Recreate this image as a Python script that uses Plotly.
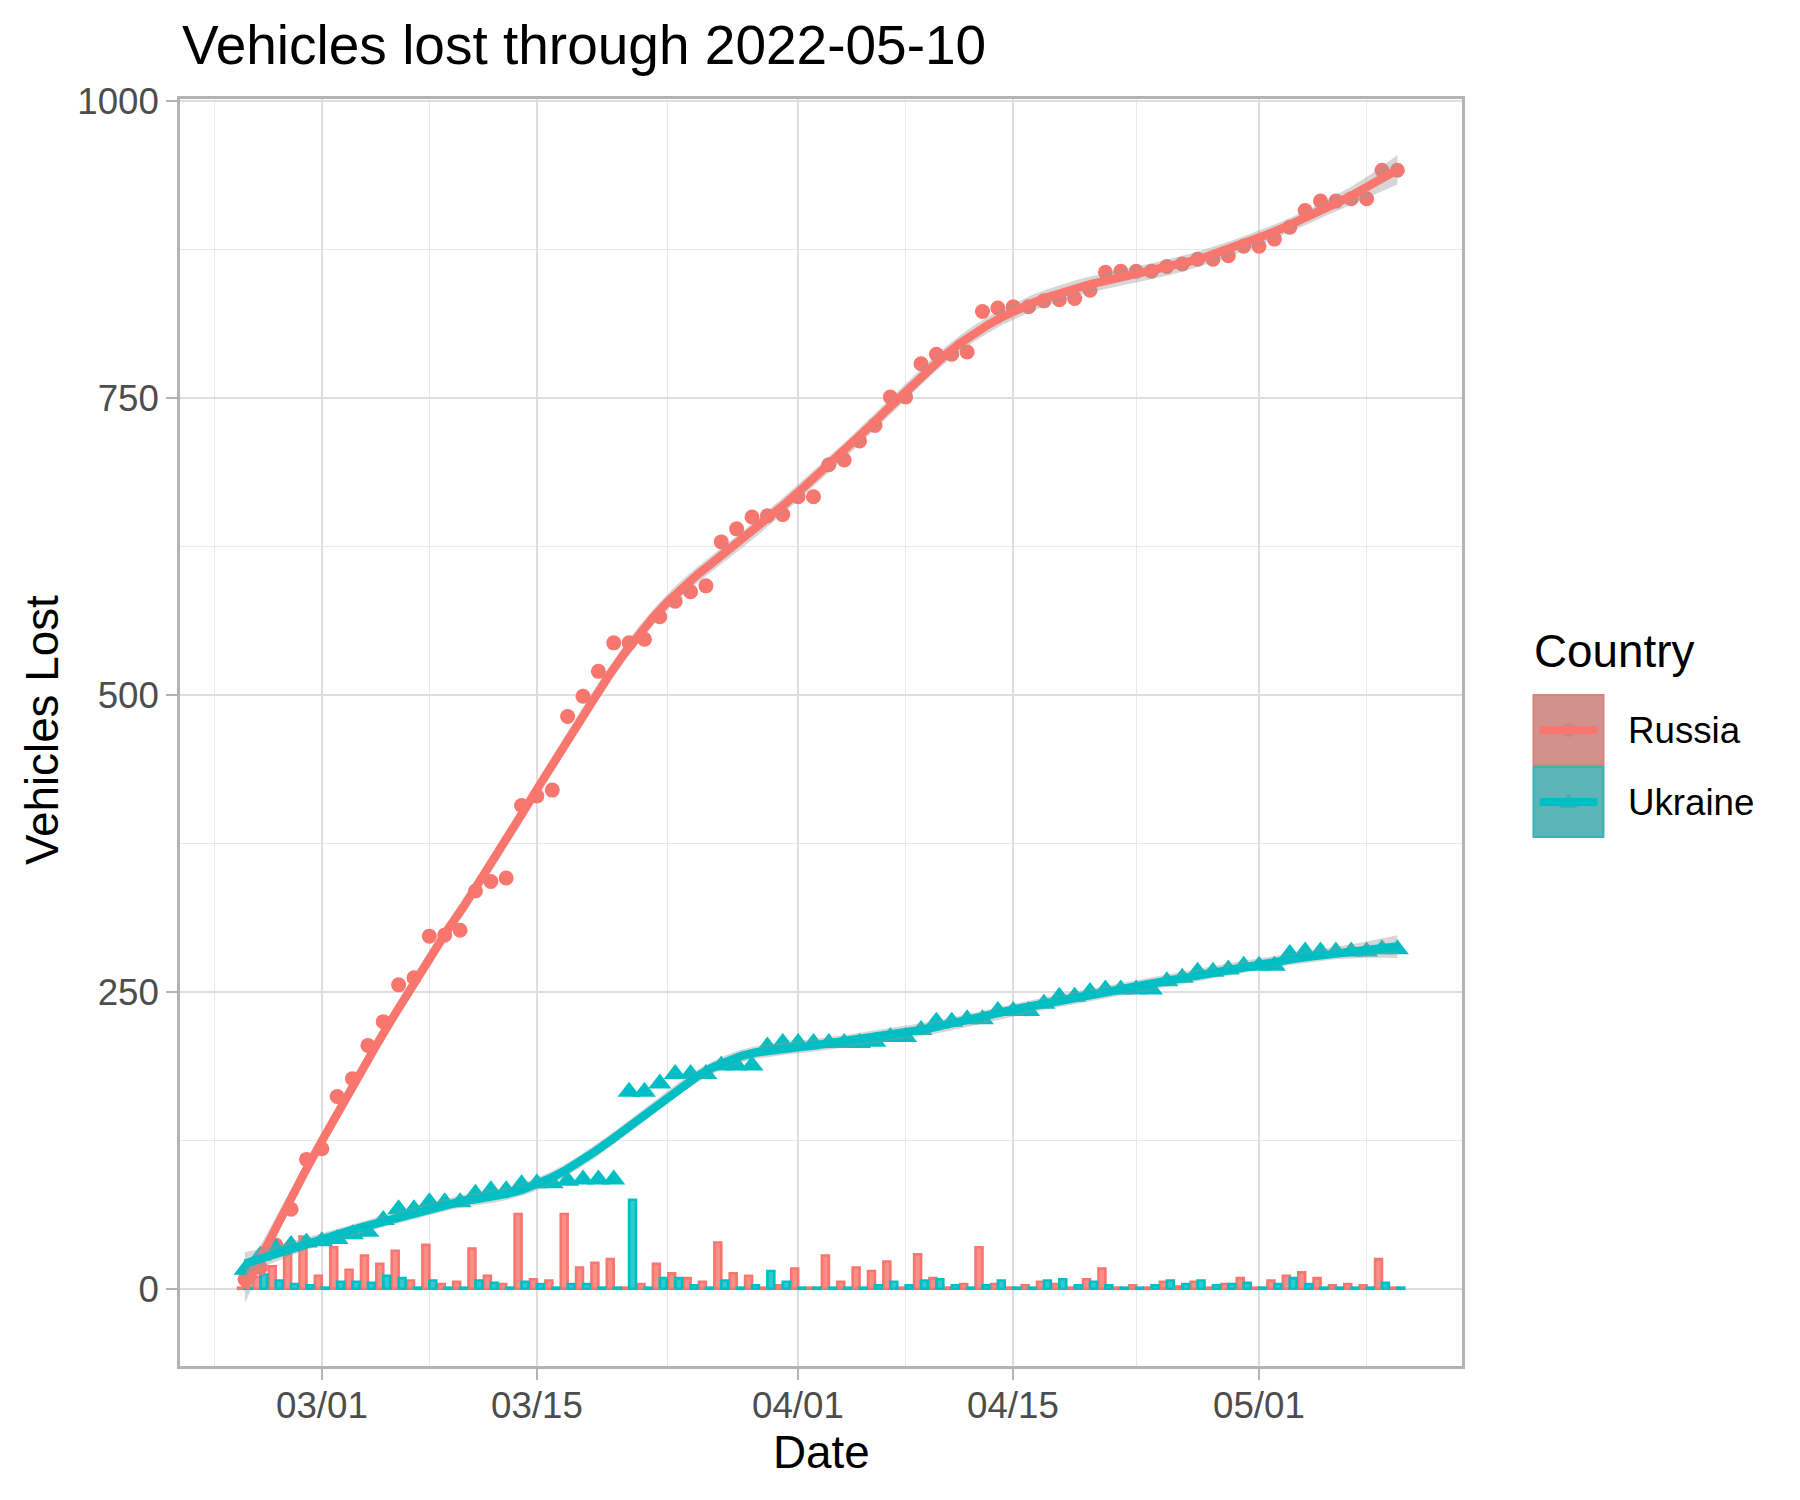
import numpy as np
import pandas as pd
import plotly.graph_objects as go

# ---------------- data ----------------
start_date = "2022-02-24"
end_date = "2022-05-10"
countries = ["Russia", "Ukraine"]

russia_total = [8, 18, 37, 67, 109, 118, 162, 177, 205, 225, 256, 262, 297, 298, 302, 335, 343, 346,
                407, 415, 420, 482, 499, 520, 544, 544, 547, 566, 579, 587, 592, 629, 640, 650, 651, 652,
                667, 667, 694, 698, 714, 727, 751, 751, 779, 787, 787, 789, 823, 826, 827, 827, 832, 833,
                834, 841, 856, 857, 857, 857, 861, 863, 867, 867, 870, 878, 878, 884, 894, 908, 916, 916,
                918, 918, 942, 942]
ukraine_total = [16, 28, 34, 37, 39, 40, 42, 46, 48, 58, 67, 67, 73, 73, 73, 80, 83, 83, 88, 89, 89,
                 91, 92, 92, 92, 166, 166, 173, 181, 181, 181, 188, 188, 188, 204, 207, 207, 207, 207,
                 207, 207, 208, 212, 212, 218, 225, 225, 227, 227, 234, 234, 234, 240, 246, 246, 250,
                 252, 252, 252, 252, 259, 262, 267, 267, 269, 272, 272, 272, 282, 284, 284, 284, 284,
                 284, 286, 286]
russia_daily = [1, 10, 19, 29, 44, 11, 35, 16, 28, 21, 32, 7, 37, 4, 6, 34, 11, 4, 63, 8, 7, 63, 18,
                22, 25, 1, 4, 21, 13, 9, 6, 39, 13, 11, 1, 3, 17, 1, 28, 6, 18, 15, 23, 1, 29, 9, 1, 4,
                35, 4, 1, 3, 6, 4, 1, 8, 17, 1, 3, 1, 6, 2, 6, 1, 4, 9, 1, 7, 11, 14, 9, 3, 4, 3, 25, 1]
ukraine_daily = [1, 12, 7, 4, 3, 1, 6, 6, 5, 11, 9, 1, 7, 1, 1, 7, 5, 1, 6, 4, 1, 4, 4, 1, 1, 75, 1,
                 9, 9, 3, 1, 7, 1, 3, 15, 6, 1, 1, 1, 1, 1, 3, 6, 3, 7, 8, 3, 1, 3, 7, 1, 1, 7, 8, 3,
                 6, 3, 1, 1, 3, 7, 4, 7, 3, 4, 5, 1, 4, 9, 4, 1, 1, 1, 1, 5, 1]

x_tick_dates = ["2022-03-01", "2022-03-15", "2022-04-01", "2022-04-15", "2022-05-01"]
x_tick_labels = ["03/01", "03/15", "04/01", "04/15", "05/01"]
x_minor_dates = ["2022-02-22", "2022-03-08", "2022-03-23 12:00", "2022-04-08", "2022-04-23", "2022-05-08"]
y_tick_vals = [0, 250, 500, 750, 1000]
y_minor_vals = [125, 375, 625, 875]

title_text = "Vehicles lost through 2022-05-10"
x_title = "Date"
y_title = "Vehicles Lost"
legend_title = "Country"

# ---------------- styling ----------------
RED = "#F8766D"
TEAL = "#00BFC4"
FONT = "Liberation Sans, Arial, Helvetica, sans-serif"

dates = pd.date_range(start_date, end_date, freq="D")


def loess_smooth(values, span=0.4, n_out=80):
    """Local quadratic (tricube) regression like R's loess, with 95% band."""
    y = np.asarray(values, dtype=float)
    n = len(y)
    x = np.arange(n, dtype=float)
    q = int(np.floor(n * span))

    def row(x0):
        d = np.abs(x - x0)
        h = max(np.sort(d)[q - 1], 1e-9)
        u = np.clip(d / h, 0, 1)
        w = (1 - u ** 3) ** 3
        X = np.column_stack([np.ones(n), x - x0, (x - x0) ** 2])
        XtW = X.T * w
        return np.linalg.solve(XtW @ X, XtW)[0]

    L = np.array([row(xi) for xi in x])
    M = np.eye(n) - L
    resid = M @ y
    delta1 = np.trace(M.T @ M)
    s = np.sqrt(np.sum(resid ** 2) / delta1)
    xs = np.linspace(0, n - 1, n_out)
    Ls = np.array([row(x0) for x0 in xs])
    fit = Ls @ y
    se = s * np.sqrt((Ls ** 2).sum(axis=1))
    t = 2.0
    xd = pd.Timestamp(start_date) + pd.to_timedelta(xs, unit="D")
    return xd, fit, fit - t * se, fit + t * se


fig = go.Figure()

# bars (daily)
fig.add_trace(go.Bar(x=dates, y=russia_daily, name="Russia",
                     marker=dict(color="rgba(248,118,109,0.82)", line=dict(color=RED, width=2.6))))
fig.add_trace(go.Bar(x=dates, y=ukraine_daily, name="Ukraine",
                     marker=dict(color="rgba(0,191,196,0.82)", line=dict(color=TEAL, width=2.6))))

# points (cumulative)
fig.add_trace(go.Scatter(x=dates, y=russia_total, mode="markers",
                         marker=dict(symbol="circle", size=15, color=RED)))
fig.add_trace(go.Scatter(x=dates, y=ukraine_total, mode="markers",
                         marker=dict(symbol="triangle-up", size=20, color=TEAL)))

# smooths with bands
for vals, col in [(russia_total, RED), (ukraine_total, TEAL)]:
    xd, fit, lo, hi = loess_smooth(vals)
    fig.add_trace(go.Scatter(x=xd, y=lo, mode="lines", line=dict(width=0), hoverinfo="skip"))
    fig.add_trace(go.Scatter(x=xd, y=hi, mode="lines", line=dict(width=0), fill="tonexty",
                             fillcolor="rgba(153,153,153,0.4)", hoverinfo="skip"))
    fig.add_trace(go.Scatter(x=xd, y=fit, mode="lines", line=dict(color=col, width=8.5)))

# ---------------- layout ----------------
# target plot-area edges in page pixels; the page adds an 8px body offset
OFF = 8
PL, PR, PT, PB = 180, 1462.5, 99, 1366


def px(v):
    return (v - PL) / (PR - PL)


def py(v):
    return (PB - v) / (PB - PT)


grid_major = "#DEDEDE"
grid_minor = "#E8E8E8"
border = "#B3B3B3"

fig.update_layout(
    width=1800, height=1500,
    margin=dict(l=PL - OFF, r=1800 - PR + OFF, t=PT - OFF, b=1500 - PB + OFF),
    paper_bgcolor="white", plot_bgcolor="white",
    showlegend=False,
    barmode="group", bargap=0.1, bargroupgap=0.0,
    font=dict(family=FONT),
)
fig.update_xaxes(
    type="date",
    range=["2022-02-19 18:30", "2022-05-14 05:00"],
    tickmode="array", tickvals=x_tick_dates, ticktext=x_tick_labels,
    showticklabels=False,
    ticks="outside", ticklen=11, tickwidth=2, tickcolor=border,
    showgrid=True, gridcolor=grid_major, gridwidth=2,
    minor=dict(tickmode="array", tickvals=x_minor_dates, showgrid=True,
               gridcolor=grid_minor, gridwidth=1.2, ticks=""),
    showline=True, linecolor=border, linewidth=2.5, mirror=True,
    zeroline=False,
)
fig.update_yaxes(
    range=[-65, 1002],
    tickmode="array", tickvals=y_tick_vals,
    tickfont=dict(size=36.7, color="#4D4D4D", family=FONT),
    ticks="outside", ticklen=11, tickwidth=2, tickcolor=border,
    ticklabelstandoff=0,
    showgrid=True, gridcolor=grid_major, gridwidth=2,
    minor=dict(tickmode="array", tickvals=y_minor_vals, showgrid=True,
               gridcolor=grid_minor, gridwidth=1.2, ticks=""),
    showline=True, linecolor=border, linewidth=2.5, mirror=True,
    zeroline=False,
)

annotations = [
    dict(text=title_text, x=px(PL), y=py(45), xanchor="left", yanchor="middle",
         font=dict(size=55, color="black", family=FONT)),
    dict(text=x_title, x=px(822), y=py(1452), xanchor="center", yanchor="middle",
         font=dict(size=45.8, color="black", family=FONT)),
    dict(text=y_title, x=px(42), y=py(730), xanchor="center", yanchor="middle", textangle=-90,
         font=dict(size=45.8, color="black", family=FONT)),
    dict(text=legend_title, x=px(1533), y=py(651), xanchor="left", yanchor="middle",
         font=dict(size=45.8, color="black", family=FONT)),
    dict(text=countries[0], x=px(1627), y=py(730), xanchor="left", yanchor="middle",
         font=dict(size=36.7, color="black", family=FONT)),
    dict(text=countries[1], x=px(1627), y=py(802), xanchor="left", yanchor="middle",
         font=dict(size=36.7, color="black", family=FONT)),
]
for a in annotations:
    a.update(xref="paper", yref="paper", showarrow=False)
# x tick labels placed as text on the date axis
for d, lab in zip(x_tick_dates, x_tick_labels):
    annotations.append(dict(text=lab, x=d, xref="x", y=py(1405), yref="paper",
                            xanchor="center", yanchor="middle", showarrow=False,
                            font=dict(size=36.7, color="#4D4D4D", family=FONT)))
fig.update_layout(annotations=annotations)

shapes = []
keys = [(695, 765, "#D1928D", "#D9837D", RED, "#CF857F", "circle"),
        (767, 837, "#5CB5B6", "#3AB2B3", TEAL, "#3FAFB0", "triangle")]
for top, bot, fill, edge, lc, mc, sym in keys:
    shapes.append(dict(type="rect", xref="paper", yref="paper",
                       x0=px(1534), x1=px(1604), y0=py(bot), y1=py(top),
                       fillcolor=fill, line=dict(color=edge, width=2), layer="above"))
    cy = (top + bot) / 2
    if sym == "circle":
        shapes.append(dict(type="circle", xref="paper", yref="paper",
                           x0=px(1562), x1=px(1576), y0=py(cy + 7), y1=py(cy - 7),
                           fillcolor=mc, line=dict(width=0), layer="above"))
    else:
        path = "M {:.5f} {:.5f} L {:.5f} {:.5f} L {:.5f} {:.5f} Z".format(
            px(1560), py(cy + 6), px(1578), py(cy + 6), px(1569), py(cy - 9))
        shapes.append(dict(type="path", xref="paper", yref="paper", path=path,
                           fillcolor=mc, line=dict(width=0), layer="above"))
    shapes.append(dict(type="line", xref="paper", yref="paper",
                       x0=px(1540), x1=px(1598), y0=py(cy), y1=py(cy),
                       line=dict(color=lc, width=8), layer="above"))
fig.update_layout(shapes=shapes)

fig.write_html("out.html")
